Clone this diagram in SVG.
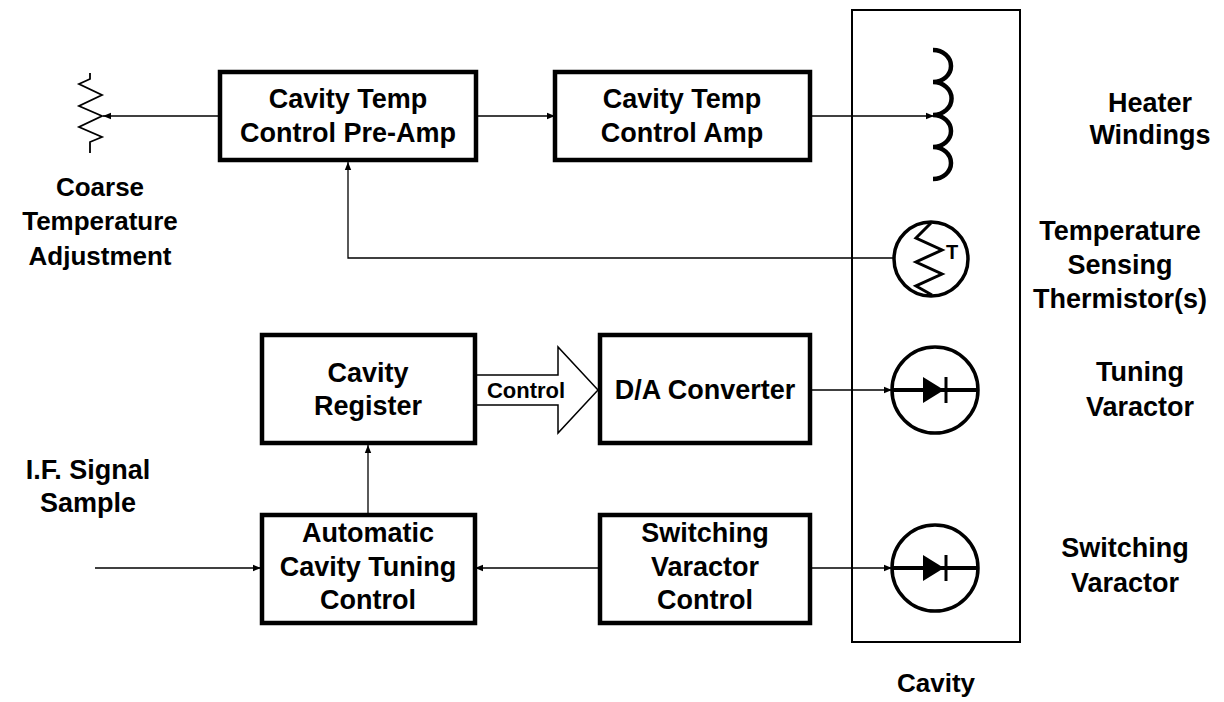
<svg xmlns="http://www.w3.org/2000/svg" width="1224" height="702" viewBox="0 0 1224 702">
<defs>
<marker id="ah" viewBox="0 0 10 10" refX="10" refY="5" markerWidth="8" markerHeight="8" markerUnits="userSpaceOnUse" orient="auto">
<path d="M0,1 L10,5 L0,9 Z" fill="#000"/>
</marker>
</defs>
<style>
text{font-family:"Liberation Sans",Arial,sans-serif;font-weight:bold;font-size:27px;fill:#000;text-anchor:middle}
text.lbl{font-size:26px}
text.small{font-size:22px}
text.t{font-size:20px}
.box{fill:#fff;stroke:#000;stroke-width:4.5}
.wire{fill:none;stroke:#000;stroke-width:1.3}
.sym{fill:none;stroke:#000;stroke-width:3.5}
</style>
<rect width="1224" height="702" fill="#fff"/>

<g id="cavity">
<rect x="852" y="10" width="168" height="632" fill="none" stroke="#000" stroke-width="2"/>
<text class="lbl" x="936" y="692">Cavity</text>
</g>

<g id="connectors">
<line class="wire" x1="220" y1="116" x2="103" y2="116" marker-end="url(#ah)"/>
<line class="wire" x1="476" y1="116" x2="555" y2="116" marker-end="url(#ah)"/>
<line class="wire" x1="810" y1="116" x2="934" y2="116" marker-end="url(#ah)"/>
<polyline class="wire" points="894,258 348,258 348,162" marker-end="url(#ah)"/>
<line class="wire" x1="810" y1="390" x2="892" y2="390" marker-end="url(#ah)"/>
<line class="wire" x1="810" y1="568" x2="892" y2="568" marker-end="url(#ah)"/>
<line class="wire" x1="600" y1="568" x2="475" y2="568" marker-end="url(#ah)"/>
<line class="wire" x1="368" y1="515" x2="368" y2="445" marker-end="url(#ah)"/>
<line class="wire" x1="95" y1="568" x2="261" y2="568" marker-end="url(#ah)"/>
<path id="control-arrow" d="M475,375 L558,375 L558,347 L598,390 L558,433 L558,405 L475,405 Z" fill="#fff" stroke="#000" stroke-width="1.5"/>
<text class="small" x="526" y="398">Control</text>
</g>

<g id="coarse-adjust">
<polyline points="90,73 90,79 79,84 102,95 79,106 102,116 79,127 102,137 90,142 90,153" fill="none" stroke="#000" stroke-width="1.8"/>
<text class="lbl" x="100" y="196">Coarse</text>
<text class="lbl" x="100" y="230">Temperature</text>
<text class="lbl" x="100" y="265">Adjustment</text>
</g>

<g id="preamp">
<rect class="box" x="220" y="72" width="256" height="88"/>
<text x="348" y="108">Cavity Temp</text>
<text x="348" y="142">Control Pre-Amp</text>
</g>

<g id="amp">
<rect class="box" x="555" y="72" width="255" height="88"/>
<text x="682" y="108">Cavity Temp</text>
<text x="682" y="142">Control Amp</text>
</g>

<g id="heater">
<path d="M933,50 A18,16 0 0 1 933,82 A18,16 0 0 1 933,115 A18,16 0 0 1 933,147 A18,16 0 0 1 933,179" fill="none" stroke="#000" stroke-width="4.5"/>
<text x="1150" y="112">Heater</text>
<text x="1150" y="144">Windings</text>
</g>

<g id="thermistor">
<circle class="sym" cx="931" cy="259" r="37"/>
<polyline points="931,223 916,238 942,250 916,262 942,274 916,286 932,295" fill="none" stroke="#000" stroke-width="3"/>
<text class="t" x="952" y="259">T</text>
<text x="1120" y="240">Temperature</text>
<text x="1120" y="274">Sensing</text>
<text x="1120" y="308">Thermistor(s)</text>
</g>

<g id="register">
<rect class="box" x="262" y="335" width="213" height="108"/>
<text x="368" y="382">Cavity</text>
<text x="368" y="415">Register</text>
</g>

<g id="dac">
<rect class="box" x="600" y="335" width="210" height="108"/>
<text x="705" y="399">D/A Converter</text>
</g>

<g id="tuning-varactor">
<circle class="sym" cx="935" cy="390" r="43"/>
<line x1="892" y1="390" x2="978" y2="390" stroke="#000" stroke-width="4"/>
<path d="M923,377 L944,390 L923,403 Z" fill="#000"/>
<line x1="946" y1="377" x2="946" y2="403" stroke="#000" stroke-width="3"/>
<text x="1140" y="381">Tuning</text>
<text x="1140" y="416">Varactor</text>
</g>

<g id="atc">
<rect class="box" x="262" y="515" width="213" height="108"/>
<text x="368" y="542">Automatic</text>
<text x="368" y="576">Cavity Tuning</text>
<text x="368" y="609">Control</text>
</g>

<g id="svc">
<rect class="box" x="600" y="515" width="210" height="108"/>
<text x="705" y="542">Switching</text>
<text x="705" y="576">Varactor</text>
<text x="705" y="609">Control</text>
</g>

<g id="switching-varactor">
<circle class="sym" cx="935" cy="568" r="43"/>
<line x1="892" y1="568" x2="978" y2="568" stroke="#000" stroke-width="4"/>
<path d="M923,555 L944,568 L923,581 Z" fill="#000"/>
<line x1="946" y1="555" x2="946" y2="581" stroke="#000" stroke-width="3"/>
<text x="1125" y="557">Switching</text>
<text x="1125" y="592">Varactor</text>
</g>

<g id="if-input">
<text x="88" y="479">I.F. Signal</text>
<text x="88" y="512">Sample</text>
</g>
</svg>
